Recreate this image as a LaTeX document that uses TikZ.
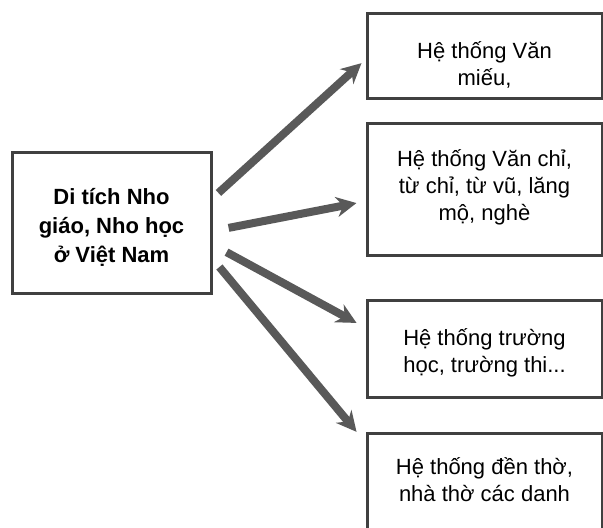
\documentclass[tikz,border=0pt]{standalone}
\usepackage{fontspec}
\setmainfont{Liberation Sans}
\usetikzlibrary{arrows.meta}
\begin{document}
\begin{tikzpicture}[x=0.5pt, y=-0.5pt, >={Stealth[length=10pt, width=10pt]},
    box/.style={draw=black!75, line width=1.5pt, minimum width=117.5pt, inner sep=0pt, align=center, font=\fontsize{11}{13.5}\selectfont},
    pointer/.style={->, draw=black!65, fill=black!65, line width=4pt}]
        \useasboundingbox (0,0) rectangle (603,527);
        \clip (0,0) rectangle (603,527);

        % Nodes
        \node[box, minimum width=99.5pt, text height=55pt, text depth=15.5pt, font=\bfseries\fontsize{11}{14.5}\selectfont] (relic) at (111.5,222.5) {Di tích Nho\\ giáo, Nho học\\ ở Việt Nam};
        \node[box, text height=36pt, text depth=6.5pt] (temple) at (484.5,55.5) {Hệ thống Văn\\ miếu,};
        \node[box, text height=48.5pt, text depth=17.5pt] (shrine) at (484.5,189) {Hệ thống Văn chỉ,\\ từ chỉ, từ vũ, lăng\\ mộ, nghè};
        \node[box, text height=36pt, text depth=12.5pt] (school) at (484.5,348.5) {Hệ thống trường\\ học, trường thi...};
        \node[box, anchor=north, text height=34pt, text depth=60pt] (worship) at (484.5,432) {Hệ thống đền thờ,\\ nhà thờ các danh};

        % Arrows
        \draw[pointer, shorten <=4pt, shorten >=2.7pt] ([yshift=12.1pt]relic.east) -- ([yshift=-2pt]temple.west);
        \draw[pointer, shorten <=8.2pt, shorten >=4.6pt] ([yshift=-4.25pt]relic.east) -- ([yshift=-6.15pt]shrine.west);
        \draw[pointer, shorten <=8pt, shorten >=5.1pt] ([yshift=-11pt]relic.east) -- ([yshift=10.35pt]school.west);
        \draw[pointer, shorten <=5.4pt, shorten >=7pt] ([yshift=-18.1pt]relic.east) -- ([yshift=-5.3pt]worship.north west);

    \end{tikzpicture}
\end{document}
